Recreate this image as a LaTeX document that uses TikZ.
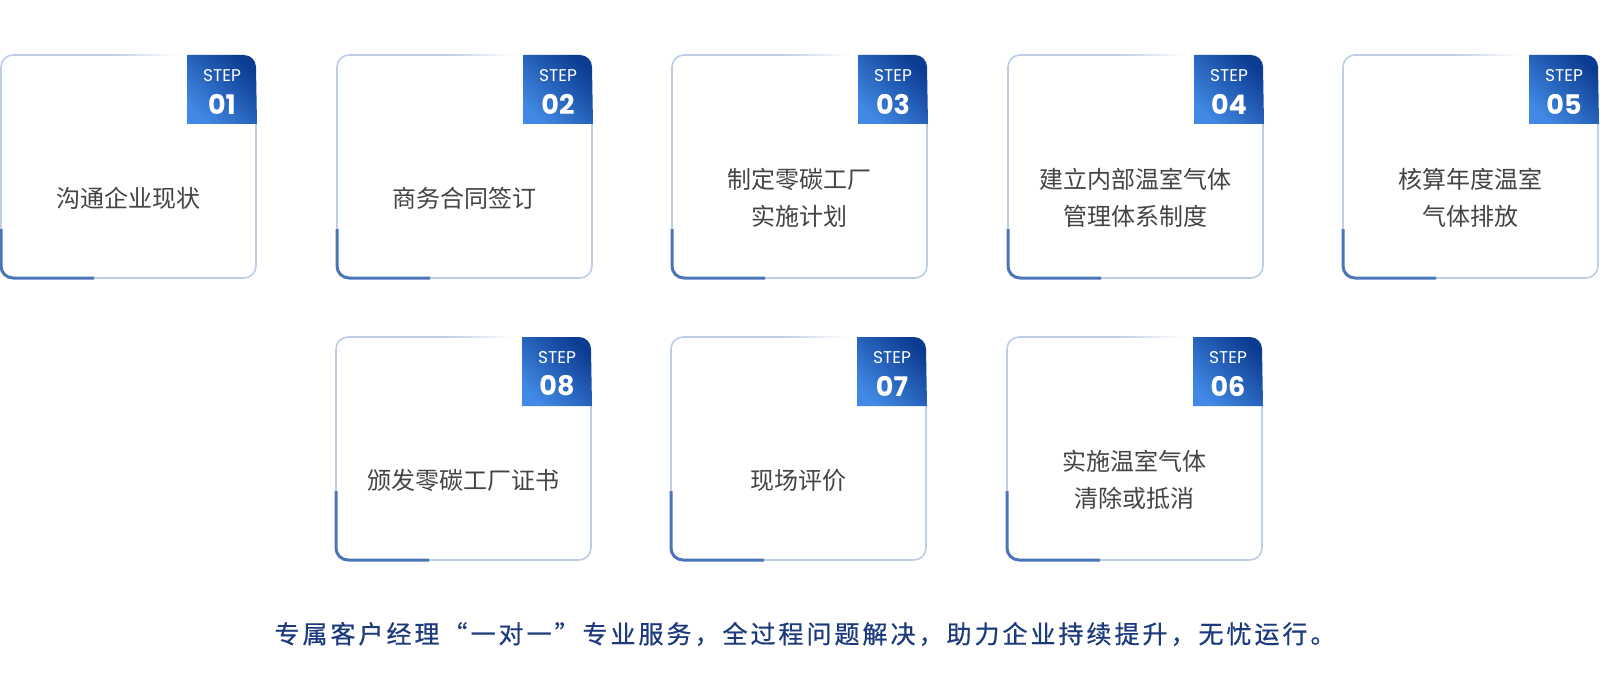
\documentclass[tikz,border=0pt]{standalone}
\usepackage{fontspec}
\setmainfont{Noto Sans CJK SC}
\newfontfamily\cjk{Noto Sans CJK SC}
\newfontfamily\cjkfoot{Noto Sans CJK SC}[FakeBold=0.6, LetterSpace=12]
\newfontfamily\stepfont{Poppins}
\definecolor{lightborder}{HTML}{BFCDE4}
\definecolor{accent}{HTML}{4A76B8}
\definecolor{cardtext}{HTML}{444444}
\definecolor{navytext}{HTML}{1C3A7C}
\definecolor{badgedark}{HTML}{0C3C92}
\definecolor{badgelight}{HTML}{4189E4}
\tikzset{
  lightline/.style={draw=lightborder, line width=1.6pt},
  accentline/.style={draw=accent, line width=3pt},
  cardlabel/.style={font=\cjk\fontsize{24}{37.5}\selectfont, text=cardtext, align=center, inner sep=0pt},
  steplabel/.style={font=\stepfont\fontsize{17}{18}\selectfont, text=white, inner sep=0pt},
  numlabel/.style={font=\stepfont\bfseries\fontsize{27}{28}\selectfont, text=white, inner sep=0pt},
  badgeshade/.style={left color=badgedark, right color=badgelight, shading angle=-45},
}
% #1 name, #2 x, #3 y, #4 accent start offset, #5 number, #6 text
\newcommand\zcard[6]{%
  \draw[lightline] (#2+112,#3) -- (#2+12,#3)
     arc[start angle=270, end angle=180, radius=12]
     -- (#2,#3+211) arc[start angle=180, end angle=90, radius=12]
     -- (#2+243,#3+223) arc[start angle=90, end angle=0, radius=12]
     -- (#2+255,#3+69);
  \shade[left color=lightborder, right color=white] (#2+111,#3-0.8) rectangle (#2+176,#3+0.8);
  \draw[accentline] (#2,#3+#4) -- (#2,#3+211) arc[start angle=180, end angle=90, radius=12] -- (#2+93,#3+223);
  \shade[badgeshade] (#2+186,#3+69) -- (#2+186,#3) -- (#2+243,#3)
     arc[start angle=270, end angle=360, radius=12] -- (#2+256,#3+69) -- cycle;
  \node[steplabel] (#1s) at (#2+221,#3+20.5) {STEP};
  \node[numlabel] (#1n) at (#2+221,#3+49) {#5};
  \node[cardlabel] (#1t) at (#2+127,#3+143) {#6};
}
\begin{document}
\begin{tikzpicture}[x=1pt,y=-1pt]
  \useasboundingbox[fill=white] (0,0) rectangle (1600,690);
  \zcard{c1}{1}{55}{174}{01}{沟通企业现状}
  \zcard{c2}{337}{55}{174}{02}{商务合同签订}
  \zcard{c3}{672}{55}{174}{03}{制定零碳工厂\\实施计划}
  \zcard{c4}{1008}{55}{174}{04}{建立内部温室气体\\管理体系制度}
  \zcard{c5}{1343}{55}{174}{05}{核算年度温室\\气体排放}
  \zcard{c8}{336}{337}{154}{08}{颁发零碳工厂证书}
  \zcard{c7}{671}{337}{154}{07}{现场评价}
  \zcard{c6}{1007}{337}{154}{06}{实施温室气体\\清除或抵消}
  \node[font=\cjkfoot\fontsize{25}{28}\selectfont, text=navytext, inner sep=0pt] (foot) at (805,634)
    {专属客户经理“一对一”专业服务，全过程问题解决，助力企业持续提升，无忧运行。};
\end{tikzpicture}
\end{document}
